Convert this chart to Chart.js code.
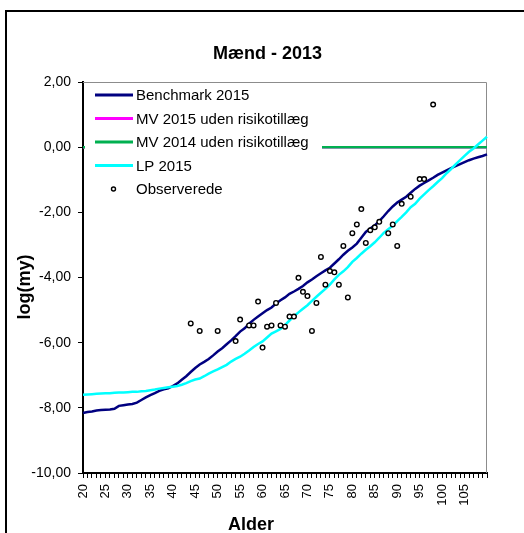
<!DOCTYPE html>
<html>
<head>
<meta charset="utf-8">
<title>Mænd - 2013</title>
<script src="https://cdn.jsdelivr.net/npm/chart.js@4.4.1/dist/chart.umd.min.js"></script>
<style>
    body { margin: 0; background: #fff; }
    #wrap { position: relative; width: 524px; height: 533px; overflow: hidden; }
</style>
</head>
<body>
<div id="wrap">
    <canvas id="chart-maend" width="524" height="533"></canvas>
</div>
<script>
// Alder 20..110 (kategorier)
const ages = [];
for (let a = 20; a <= 110; a++) ages.push(a);

// log(my)
const benchmark2015 = [
    -8.16, -8.13, -8.11, -8.08, -8.07, -8.06, -8.05, -8.03, -7.94, -7.92,
    -7.90, -7.88, -7.84, -7.76, -7.68, -7.61, -7.55, -7.48, -7.43, -7.40,
    -7.33, -7.25, -7.14, -7.03, -6.90, -6.78, -6.67, -6.59, -6.50, -6.39,
    -6.27, -6.17, -6.05, -5.93, -5.80, -5.66, -5.56, -5.42, -5.30, -5.20,
    -5.10, -5.00, -4.92, -4.80, -4.70, -4.61, -4.50, -4.43, -4.35, -4.26,
    -4.15, -4.06, -3.96, -3.87, -3.78, -3.70, -3.57, -3.44, -3.30, -3.18,
    -3.08, -2.96, -2.78, -2.60, -2.50, -2.40, -2.27, -2.12, -1.96, -1.82,
    -1.70, -1.61, -1.52, -1.40, -1.28, -1.18, -1.10, -1.02, -0.94, -0.85,
    -0.78, -0.71, -0.64, -0.58, -0.52, -0.46, -0.40, -0.35, -0.31, -0.27,
    -0.22
];

const lp2015 = [
    -7.60, -7.59, -7.58, -7.57, -7.56, -7.55, -7.55, -7.54, -7.53, -7.53,
    -7.52, -7.51, -7.51, -7.49, -7.48, -7.46, -7.44, -7.41, -7.39, -7.37,
    -7.35, -7.33, -7.29, -7.24, -7.18, -7.13, -7.10, -7.03, -6.95, -6.88,
    -6.82, -6.75, -6.68, -6.58, -6.50, -6.43, -6.34, -6.24, -6.13, -6.04,
    -5.96, -5.84, -5.72, -5.65, -5.58, -5.46, -5.32, -5.19, -5.07, -4.96,
    -4.85, -4.72, -4.59, -4.47, -4.35, -4.22, -4.06, -3.92, -3.81, -3.68,
    -3.52, -3.40, -3.27, -3.15, -3.04, -2.92, -2.78, -2.63, -2.52, -2.41,
    -2.27, -2.14, -2.00, -1.84, -1.74, -1.58, -1.45, -1.32, -1.20, -1.07,
    -0.95, -0.80, -0.67, -0.53, -0.40, -0.27, -0.14, -0.04, 0.08, 0.20,
    0.32
];

// MV-serierne ligger på 0 hele vejen
const mv2015 = ages.map(() => 0);
const mv2014 = ages.map(() => 0);

// Observerede punkter
const obsAges = [44, 46, 50, 54, 55, 57, 58, 59, 60, 61, 62, 63, 64, 65, 66, 67, 68, 69, 70, 71,
    72, 73, 74, 75, 76, 77, 78, 79, 80, 81, 82, 83, 84, 85, 86, 88, 89, 90, 91, 93, 95, 96, 98];
const obsValues = [-5.41, -5.64, -5.64, -5.95, -5.29, -5.47, -5.47, -4.74, -6.15, -5.51,
    -5.47, -4.78, -5.47, -5.51, -5.20, -5.20, -4.01, -4.44, -4.57, -5.64,
    -4.78, -3.37, -4.22, -3.80, -3.84, -4.22, -3.03, -4.61, -2.64, -2.37,
    -1.90, -2.94, -2.55, -2.46, -2.29, -2.64, -2.37, -3.03, -1.74, -1.52,
    -0.98, -0.98, 1.31];

const yTicks = [2, 0, -2, -4, -6, -8, -10];

const observed = ages.map(a => {
    const i = obsAges.indexOf(a);
    return i >= 0 ? obsValues[i] : null;
});

const fontFamily = "'Liberation Sans', Arial, sans-serif";

// Titler, ramme og legende tegnes som i Excel
const excelLook = {
    id: 'excelLook',
    beforeDraw(chart) {
        const ctx = chart.ctx;
        ctx.save();
        ctx.strokeStyle = '#000';
        ctx.lineWidth = 2;
        ctx.beginPath();
        ctx.moveTo(6, 540);
        ctx.lineTo(6, 11);
        ctx.lineTo(540, 11);
        ctx.stroke();
        ctx.restore();
    },
    beforeDatasetsDraw(chart) {
        const { ctx, chartArea: ca } = chart;
        ctx.save();
        ctx.strokeStyle = '#8c8c8c';
        ctx.lineWidth = 1;
        ctx.beginPath();
        ctx.moveTo(ca.left, ca.top + 0.5);
        ctx.lineTo(ca.right - 0.5, ca.top + 0.5);
        ctx.lineTo(ca.right - 0.5, ca.bottom);
        ctx.stroke();
        ctx.restore();
    },
    afterDatasetsDraw(chart) {
        const ctx = chart.ctx;
        ctx.save();

        // legende med hvid baggrund
        ctx.fillStyle = '#fff';
        ctx.fillRect(85, 83, 237, 118);
        ctx.font = '15px ' + fontFamily;
        ctx.textBaseline = 'middle';
        ctx.textAlign = 'left';
        chart.data.datasets.forEach((ds, i) => {
            const y = 95 + i * 23.5;
            if (ds.showLine === false) {
                ctx.beginPath();
                ctx.arc(113.5, y, 2, 0, Math.PI * 2);
                ctx.fillStyle = '#fff';
                ctx.fill();
                ctx.strokeStyle = '#000';
                ctx.lineWidth = 1.4;
                ctx.stroke();
            } else {
                ctx.strokeStyle = ds.borderColor;
                ctx.lineWidth = 3;
                ctx.beginPath();
                ctx.moveTo(95, y);
                ctx.lineTo(133, y);
                ctx.stroke();
            }
            ctx.fillStyle = '#000';
            ctx.fillText(ds.label, 136, y + 1);
        });

        // titler
        ctx.fillStyle = '#000';
        ctx.font = 'bold 18px ' + fontFamily;
        ctx.textAlign = 'center';
        ctx.textBaseline = 'alphabetic';
        ctx.fillText('Mænd - 2013', 267.5, 59);
        ctx.fillText('Alder', 251, 530);

        ctx.translate(30, 287);
        ctx.rotate(-Math.PI / 2);
        ctx.fillText('log(my)', 0, 0);
        ctx.restore();
    }
};

document.addEventListener('DOMContentLoaded', () => {
    const canvas = document.getElementById('chart-maend').getContext('2d');

    new Chart(canvas, {
        type: 'line',
        data: {
            labels: ages,
            datasets: [
                {
                    label: 'Benchmark 2015',
                    data: benchmark2015,
                    borderColor: '#000080',
                    borderWidth: 2.5,
                    pointRadius: 0,
                    order: 4
                },
                {
                    label: 'MV 2015 uden risikotillæg',
                    data: mv2015,
                    borderColor: '#ff00ff',
                    borderWidth: 2.5,
                    pointRadius: 0,
                    order: 3
                },
                {
                    label: 'MV 2014 uden risikotillæg',
                    data: mv2014,
                    borderColor: '#00b050',
                    borderWidth: 2.5,
                    pointRadius: 0,
                    order: 2
                },
                {
                    label: 'LP 2015',
                    data: lp2015,
                    borderColor: '#00ffff',
                    borderWidth: 2.5,
                    pointRadius: 0,
                    order: 1
                },
                {
                    label: 'Observerede',
                    data: observed,
                    showLine: false,
                    pointRadius: 2.3,
                    pointBorderWidth: 1.4,
                    pointBorderColor: '#000',
                    pointBackgroundColor: '#fff',
                    order: 0
                }
            ]
        },
        options: {
            responsive: false,
            animation: false,
            devicePixelRatio: 1,
            layout: { padding: { top: 82, right: 37, left: 0, bottom: 0 } },
            plugins: {
                legend: { display: false },
                title: { display: false },
                tooltip: { enabled: false }
            },
            scales: {
                x: {
                    type: 'category',
                    offset: false,
                    afterFit: scale => { scale.height = 60; },
                    grid: {
                        drawOnChartArea: false,
                        drawTicks: true,
                        tickLength: 5,
                        color: '#000'
                    },
                    border: { color: '#000', width: 2 },
                    ticks: {
                        autoSkip: false,
                        minRotation: 90,
                        maxRotation: 90,
                        padding: 6,
                        color: '#000',
                        font: { family: fontFamily, size: 13 },
                        callback: (value, index) => {
                            const age = ages[index];
                            return (age % 5 === 0 && age < 110) ? String(age) : '';
                        }
                    }
                },
                y: {
                    min: -10,
                    max: 2,
                    afterFit: scale => { scale.width = 83; },
                    afterBuildTicks: scale => {
                        scale.ticks = yTicks.map(v => ({ value: v }));
                    },
                    grid: {
                        drawOnChartArea: false,
                        drawTicks: true,
                        tickLength: 5,
                        color: '#000'
                    },
                    border: { color: '#000', width: 2 },
                    ticks: {
                        padding: 7,
                        color: '#000',
                        font: { family: fontFamily, size: 14 },
                        callback: v => v.toFixed(2).replace('.', ',')
                    }
                }
            }
        },
        plugins: [excelLook]
    });
});
</script>
</body>
</html>
